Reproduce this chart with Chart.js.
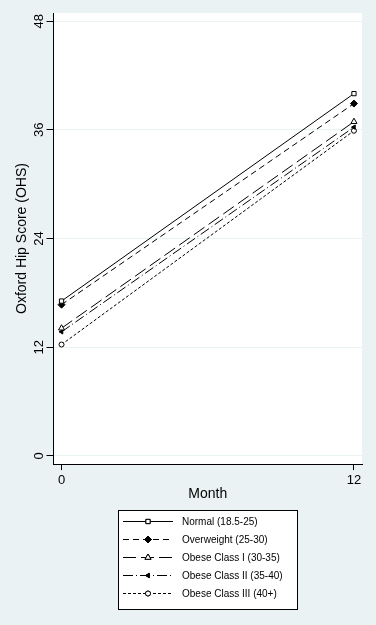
<!DOCTYPE html>
<html>
<head>
<meta charset="utf-8">
<script src="https://cdn.jsdelivr.net/npm/chart.js@4"></script>
<style>
    html, body { margin: 0; padding: 0; background: #eaf2f3; }
    #wrap { width: 376px; height: 625px; position: relative; }
</style>
</head>
<body>
<div id="wrap"><canvas id="ohsChart" width="376" height="625"></canvas></div>
<script>
    // Data
    var months = [0, 12];
    var seriesNames = ['Normal (18.5-25)', 'Overweight (25-30)', 'Obese Class I (30-35)',
        'Obese Class II (35-40)', 'Obese Class III (40+)'];
    var normal = [17.1, 40.0];
    var overweight = [16.7, 38.9];
    var obese1 = [14.1, 36.9];
    var obese2 = [13.7, 36.3];
    var obese3 = [12.3, 35.9];
    var yTicks = [0, 12, 24, 36, 48];
    var xTicks = [0, 12];

    var FONT = '"Liberation Sans", Arial, sans-serif';
    var BG = '#eaf2f3';

    function pts(vals) {
        return months.map(function(m, i) { return {x: m, y: vals[i]}; });
    }

    var styles = [
        {dash: [], point: 'rect', fill: '#ffffff', radius: 3},
        {dash: [6, 4], point: 'rectRot', fill: '#000000', radius: 3.5},
        {dash: [13, 5], point: 'triangle', fill: '#ffffff', radius: 3.5},
        {dash: [10, 3, 1, 3], point: 'triangle', fill: '#000000', radius: 2.5, rotation: -90},
        {dash: [3, 2], point: 'circle', fill: '#ffffff', radius: 2.5}
    ];
    var values = [normal, overweight, obese1, obese2, obese3];

    var datasets = values.map(function(v, i) {
        var s = styles[i];
        return {
            label: seriesNames[i],
            data: pts(v),
            borderColor: '#000000',
            borderWidth: 1,
            borderDash: s.dash,
            pointStyle: s.point,
            pointRadius: s.radius,
            pointRotation: s.rotation || 0,
            pointBackgroundColor: s.fill,
            pointBorderColor: '#000000',
            pointBorderWidth: 1,
            tension: 0
        };
    });

    // paint background and white plot region
    var backdrop = {
        id: 'backdrop',
        beforeDraw: function(chart) {
            var ctx = chart.ctx, a = chart.chartArea;
            ctx.save();
            ctx.fillStyle = BG;
            ctx.fillRect(0, 0, chart.width, chart.height);
            ctx.fillStyle = '#ffffff';
            ctx.fillRect(a.left, a.top, a.right - a.left, a.bottom - a.top);
            ctx.restore();
        }
    };

    // Stata style boxed legend under the plot
    var boxLegend = {
        id: 'boxLegend',
        afterDraw: function(chart) {
            var ctx = chart.ctx;
            var left = 118, top = 510, w = 179, h = 99;
            ctx.save();
            ctx.fillStyle = '#ffffff';
            ctx.fillRect(left, top, w, h);
            ctx.strokeStyle = '#000000';
            ctx.lineWidth = 1;
            ctx.strokeRect(left + 0.5, top + 0.5, w, h);
            chart.data.datasets.forEach(function(ds, i) {
                var y = top + 11 + i * 18;
                ctx.beginPath();
                ctx.setLineDash(ds.borderDash);
                ctx.moveTo(123, y + 0.5);
                ctx.lineTo(173, y + 0.5);
                ctx.stroke();
                ctx.setLineDash([]);
                ctx.fillStyle = ds.pointBackgroundColor;
                Chart.helpers.drawPoint(ctx, {
                    pointStyle: ds.pointStyle,
                    radius: ds.pointRadius,
                    rotation: ds.pointRotation,
                    borderWidth: 1
                }, 148, y + 0.5);
                ctx.fill();
                ctx.stroke();
                ctx.fillStyle = '#000000';
                ctx.font = '10px ' + FONT;
                ctx.textBaseline = 'middle';
                ctx.fillText(ds.label, 182, y + 1);
            });
            ctx.restore();
        }
    };

    new Chart(document.getElementById('ohsChart'), {
        type: 'line',
        data: {datasets: datasets},
        options: {
            responsive: false,
            animation: false,
            layout: {padding: {top: 13, right: 14, bottom: 122, left: 13.6}},
            plugins: {legend: {display: false}, tooltip: {enabled: false}},
            scales: {
                x: {
                    type: 'linear',
                    min: -0.33,
                    max: 12.33,
                    afterBuildTicks: function(scale) {
                        scale.ticks = xTicks.map(function(v) { return {value: v}; });
                    },
                    grid: {drawOnChartArea: false, tickLength: 6, tickColor: '#000000'},
                    border: {color: '#000000', width: 1},
                    ticks: {color: '#000000', font: {family: FONT, size: 13}, padding: 3, maxRotation: 0},
                    title: {display: true, text: 'Month', color: '#000000',
                        font: {family: FONT, size: 14}, padding: {top: -5.5, bottom: 0}}
                },
                y: {
                    type: 'linear',
                    min: -0.9,
                    max: 48.9,
                    afterBuildTicks: function(scale) {
                        scale.ticks = yTicks.map(function(v) { return {value: v}; });
                    },
                    grid: {color: BG, tickLength: 7, tickColor: '#000000', lineWidth: 1},
                    border: {color: '#000000', width: 1},
                    ticks: {color: '#000000', font: {family: FONT, size: 13}, padding: 0,
                        minRotation: 90, maxRotation: 90, crossAlign: 'center'},
                    title: {display: true, text: 'Oxford Hip Score (OHS)', color: '#000000',
                        font: {family: FONT, size: 14}, padding: {top: 0, bottom: 0.5}}
                }
            }
        },
        plugins: [backdrop, boxLegend]
    });
</script>
</body>
</html>
